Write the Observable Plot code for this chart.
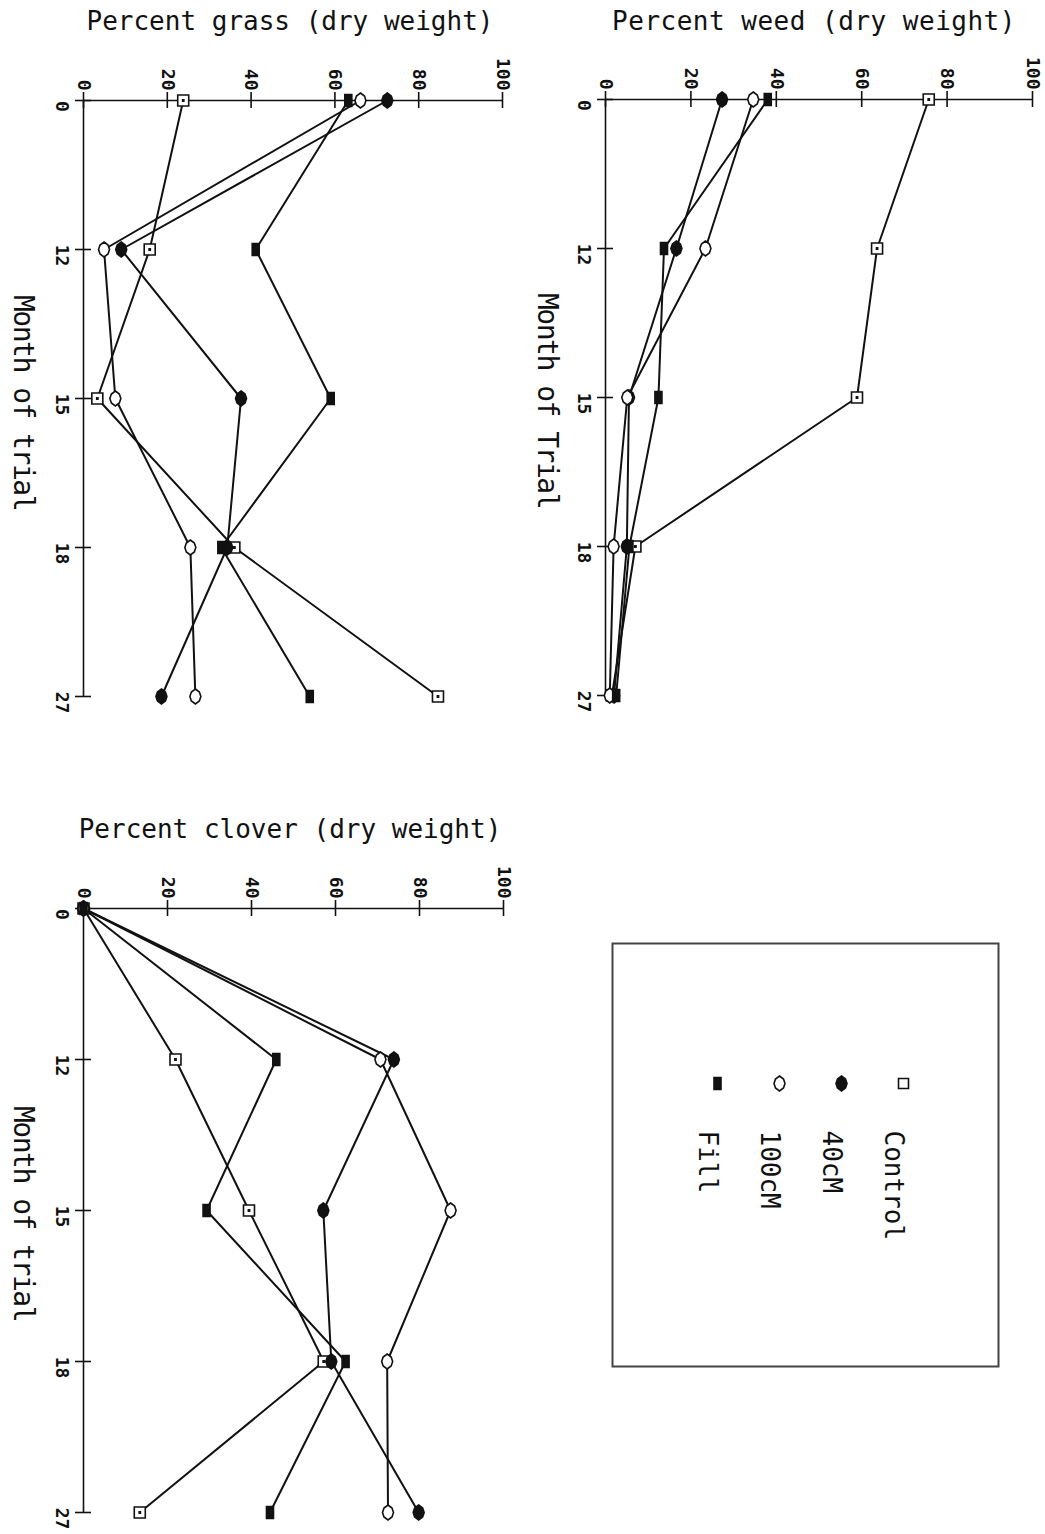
<!DOCTYPE html>
<html><head><meta charset="utf-8">
<script src="https://cdn.jsdelivr.net/npm/d3@7"></script>
<script src="https://cdn.jsdelivr.net/npm/@observablehq/plot@0.6"></script>
<style>
body{margin:0;background:#fff;}
#page{position:relative;width:1045px;height:1534px;overflow:hidden;font-family:"DejaVu Sans Mono",monospace;color:#111;}
.panel{position:absolute;}
.title{position:absolute;font-size:26px;line-height:26px;white-space:nowrap;transform:translateX(-50%);}
.vlabel{position:absolute;font-size:28px;line-height:28px;letter-spacing:-1.5px;writing-mode:vertical-rl;white-space:nowrap;}
</style></head><body><div id="page"></div>
<script>
// ---- data ----
const months = [0, 12, 15, 18, 27];
const percentTicks = [0, 20, 40, 60, 80, 100];
const seriesNames = ["Control", "40cM", "100cM", "Fill"];

const weedControl = [75.7, 63.6, 58.9, 7.0, 1.5];
const weed40cM    = [27.3, 16.6, 5.5, 5.0, 2.0];
const weed100cM   = [34.6, 23.4, 5.1, 1.9, 1.0];
const weedFill    = [38.0, 13.7, 12.4, 5.6, 2.5];

const grassControl = [23.8, 15.8, 3.3, 36.0, 84.6];
const grass40cM    = [72.5, 9.0, 37.6, 34.3, 18.6];
const grass100cM   = [66.1, 4.9, 7.6, 25.5, 26.7];
const grassFill    = [63.2, 41.1, 59.0, 32.9, 54.0];

const cloverControl = [0, 21.9, 39.4, 57.2, 13.4];
const clover40cM    = [0, 73.9, 57.1, 59.0, 79.8];
const clover100cM   = [0, 70.7, 87.4, 72.3, 72.5];
const cloverFill    = [0, 45.9, 29.3, 62.4, 44.4];

const titles = ["Percent weed (dry weight)", "Percent grass (dry weight)", "Percent clover (dry weight)"];
const monthLabels = ["Month of Trial", "Month of trial", "Month of trial"];

// ---- symbols ----
function poly(ctx, pts) { ctx.moveTo(pts[0][0], pts[0][1]); for (let i = 1; i < pts.length; i++) ctx.lineTo(pts[i][0], pts[i][1]); ctx.closePath(); }
const lemon = [[0,-7.5],[4,-4.5],[5.5,0],[4,4.5],[0,7.5],[-4,4.5],[-5.5,0],[-4,-4.5]];
const symSquareDot = {draw(ctx){ poly(ctx, [[-5.5,-5.5],[5.5,-5.5],[5.5,5.5],[-5.5,5.5]]); poly(ctx, [[-0.6,-0.6],[0.6,-0.6],[0.6,0.6],[-0.6,0.6]]); }};
const symSquare = {draw(ctx){ poly(ctx, [[-5,-5],[5,-5],[5,5],[-5,5]]); }};
const symLemon = {draw(ctx){ poly(ctx, lemon); }};
const symBar = {draw(ctx){ poly(ctx, [[-3.5,-6],[3.5,-6],[3.5,6],[-3.5,6]]); }};
const style = {
  "Control": {symbol: symSquareDot, legendSymbol: symSquare, fill: "white"},
  "40cM": {symbol: symLemon, legendSymbol: symLemon, fill: "#111"},
  "100cM": {symbol: symLemon, legendSymbol: symLemon, fill: "white"},
  "Fill": {symbol: symBar, legendSymbol: symBar, fill: "#111"}
};

const page = document.getElementById("page");
const INK = "#111";

function drawPanel(values, box) {
  const rows = seriesNames.flatMap((s, k) => months.map((m, i) => ({series: s, month: m, value: values[k][i]})));
  const marks = [
    Plot.ruleY([months[0]], {y: d => d, x1: 0, x2: 100, stroke: INK, strokeWidth: 1.6}),
    Plot.ruleX([0], {x: d => d, y1: months[0], y2: months[months.length - 1], stroke: INK, strokeWidth: 1.6}),
    Plot.ruleX(percentTicks, {x: d => d, y1: months[0], y2: months[0], insetTop: -8, insetBottom: -8, stroke: INK, strokeWidth: 1.6}),
    Plot.ruleY(months, {y: d => d, x1: 0, x2: 0, insetLeft: -8, insetRight: -8, stroke: INK, strokeWidth: 1.6}),
    Plot.text(percentTicks, {x: d => d, y: months[0], text: d => String(d), rotate: 90, textAnchor: "end", dy: -10, fontSize: 18, fontWeight: "bold", fill: INK}),
    Plot.text(months, {x: 0, y: d => d, text: d => String(d), rotate: 90, textAnchor: "middle", dx: -22, dy: 6, fontSize: 18, fontWeight: "bold", fill: INK})
  ];
  seriesNames.forEach(s => marks.push(Plot.line(rows.filter(r => r.series === s), {x: "value", y: "month", stroke: INK, strokeWidth: 2})));
  seriesNames.forEach(s => marks.push(Plot.dot(rows.filter(r => r.series === s), {x: "value", y: "month", symbol: style[s].symbol, r: 6, fill: style[s].fill, stroke: INK, strokeWidth: 1.6})));
  const svg = Plot.plot({
    width: box.width, height: box.height,
    marginLeft: box.ml, marginRight: box.mr, marginTop: box.mt, marginBottom: box.mb,
    x: {domain: [0, 100], axis: null},
    y: {type: "point", domain: months, padding: 0, axis: null},
    style: {fontFamily: "DejaVu Sans Mono, monospace", background: "transparent", overflow: "visible"},
    marks
  });
  svg.classList.add("panel");
  svg.style.left = box.left + "px";
  svg.style.top = box.top + "px";
  page.appendChild(svg);
}

drawPanel([weedControl, weed40cM, weed100cM, weedFill], {left: 540, top: 0, width: 505, height: 730, ml: 65, mr: 13, mt: 98, mb: 35});
drawPanel([grassControl, grass40cM, grass100cM, grassFill], {left: 0, top: 0, width: 530, height: 730, ml: 83, mr: 28, mt: 98, mb: 33});
drawPanel([cloverControl, clover40cM, clover100cM, cloverFill], {left: 0, top: 780, width: 530, height: 754, ml: 83, mr: 27, mt: 127, mb: 22});

// titles and rotated month labels
function addDiv(cls, text, left, top, extra) {
  const d = document.createElement("div");
  d.className = cls; d.textContent = text;
  d.style.left = left + "px"; d.style.top = top + "px";
  if (extra) Object.assign(d.style, extra);
  page.appendChild(d);
}
addDiv("title", titles[0], 814, 8, {letterSpacing: "0.5px"});
addDiv("title", titles[1], 290, 8);
addDiv("title", titles[2], 290, 816);
addDiv("vlabel", monthLabels[0], 533, 293);
addDiv("vlabel", monthLabels[1], 9, 295);
addDiv("vlabel", monthLabels[2], 9, 1106);

// legend
const legendOrder = seriesNames.slice().reverse();
const legendMarks = [Plot.frame({stroke: "#444", strokeWidth: 2})];
seriesNames.forEach(s => legendMarks.push(Plot.dot([s], {x: d => d, frameAnchor: "top", dy: 140, symbol: style[s].legendSymbol, r: 6, fill: style[s].fill, stroke: INK, strokeWidth: 1.6})));
legendMarks.push(Plot.text(seriesNames, {x: d => d, text: d => d, frameAnchor: "top", dy: 187, rotate: 90, textAnchor: "start", fontSize: 26, fill: INK}));
const legend = Plot.plot({
  width: 388, height: 425, margin: 1,
  x: {type: "point", domain: legendOrder, range: [73, 324], axis: null},
  style: {fontFamily: "DejaVu Sans Mono, monospace", background: "transparent", overflow: "visible"},
  marks: legendMarks
});
legend.classList.add("panel");
legend.style.left = "611px";
legend.style.top = "942px";
page.appendChild(legend);
</script>
</body></html>
